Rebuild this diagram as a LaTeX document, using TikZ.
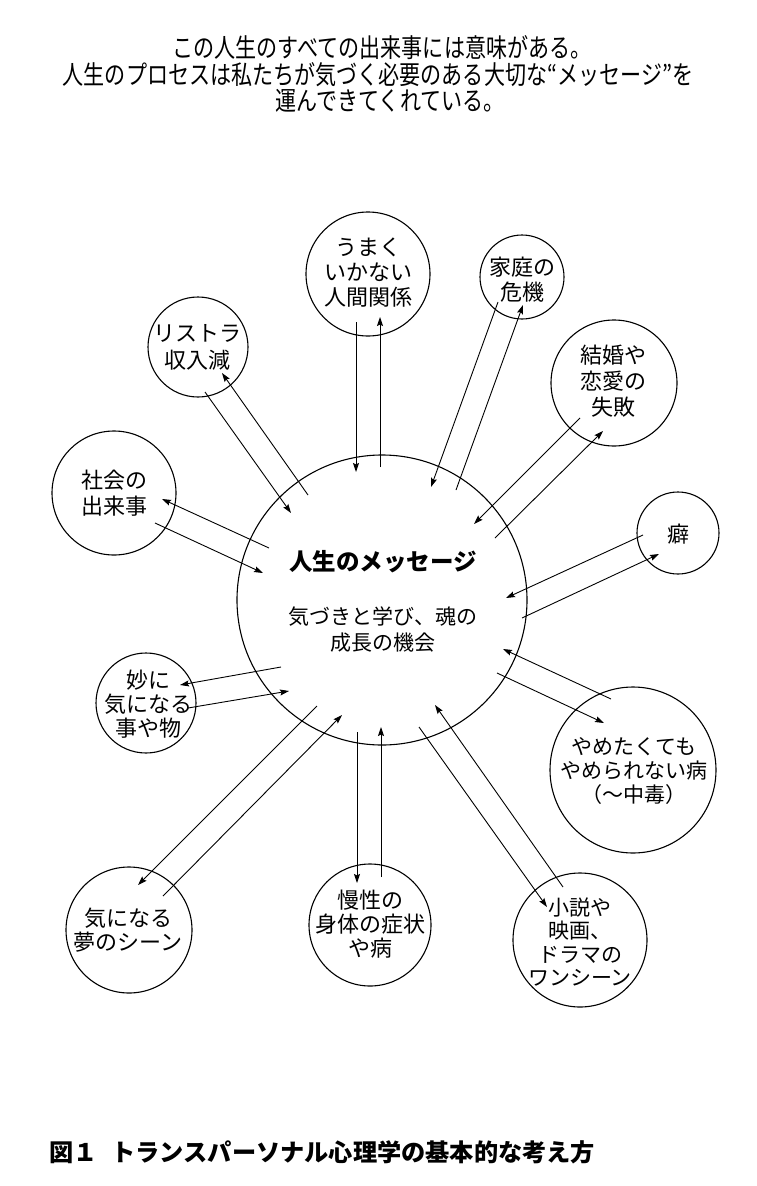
\documentclass[tikz,border=0pt]{standalone}
\usepackage{fontspec}
\setmainfont{Noto Sans CJK JP}
\newfontfamily\hdrfont[FakeStretch=0.81]{Noto Sans CJK JP}
\usetikzlibrary{arrows.meta}
\begin{document}
\begin{tikzpicture}[x=1pt,y=-1pt,
  bubble/.style={circle,draw,line width=1.1pt,inner sep=0pt,minimum size=#1},
  bubtext/.style={align=center,inner sep=0pt,font=\fontsize{22}{25}\selectfont},
  smalltext/.style={align=center,inner sep=0pt,font=\fontsize{21}{23.5}\selectfont},
  conn/.style={line width=0.9pt,-{Stealth[length=9pt,width=6pt,inset=1.5pt]}},
  header/.style={inner sep=0pt,font=\hdrfont\fontsize{26}{27}\selectfont},
  caption/.style={inner sep=0pt,anchor=west,font=\bfseries\fontsize{24.2}{28}\selectfont}]
\useasboundingbox (0,0) rectangle (756,1186);

% header
\node[header] (h1) at (382,48) {この人生のすべての出来事には意味がある。};
\node[header] (h2) at (378,75) {人生のプロセスは私たちが気づく必要のある大切な“メッセージ”を};
\node[header] (h3) at (390,101) {運んできてくれている。};

% hub
\node[bubble=290pt] (hub) at (382,600) {};
\node[inner sep=0pt,font=\bfseries\fontsize{23.5}{28}\selectfont] (hubtitle) at (383,562) {人生のメッセージ};
\node[align=center,inner sep=0pt,font=\fontsize{21}{26}\selectfont] (hubtext) at (383,630) {気づきと学び、魂の\\成長の機会};

% bubbles
\node[bubble=124pt] (c1) at (368,274) {};
\node[bubtext] (t1) at (368,273) {うまく\\いかない\\人間関係};
\node[bubble=84pt] (c2) at (522,277) {};
\node[bubtext] (t2) at (522,280) {家庭の\\危機};
\node[bubble=126pt] (c3) at (614,383) {};
\node[bubtext,font=\fontsize{22}{26}\selectfont] (t3) at (613,381) {結婚や\\恋愛の\\失敗};
\node[bubble=82pt] (c4) at (678,533) {};
\node[bubtext] (t4) at (678,534) {癖};
\node[bubble=166pt] (c5) at (633,770) {};
\node[smalltext,font=\fontsize{21}{24}\selectfont] (t5) at (634,771) {やめたくても\\やめられない病\\（〜中毒）};
\node[bubble=134pt] (c6) at (580,940) {};
\node[smalltext] (t6) at (580,942) {小説や\\映画、\\ドラマの\\ワンシーン};
\node[bubble=122pt] (c7) at (370,925) {};
\node[bubtext,font=\fontsize{22}{24}\selectfont] (t7) at (370,924) {慢性の\\身体の症状\\や病};
\node[bubble=126pt] (c8) at (129,930) {};
\node[bubtext,font=\fontsize{22}{24}\selectfont] (t8) at (128,930) {気になる\\夢のシーン};
\node[bubble=100pt] (c9) at (146,703) {};
\node[bubtext,font=\fontsize{22}{24}\selectfont] (t9) at (148,704) {妙に\\気になる\\事や物};
\node[bubble=124pt] (c10) at (114,493) {};
\node[bubtext,font=\fontsize{22}{26}\selectfont] (t10) at (114,493) {社会の\\出来事};
\node[bubble=100pt] (c11) at (198,347) {};
\node[bubtext,font=\fontsize{22}{27}\selectfont] (t11) at (197,347) {リストラ\\収入減};

% connector end points
\coordinate (a1s) at (356,322); \coordinate (a1e) at (356,472);
\coordinate (a2s) at (380,467); \coordinate (a2e) at (380,317);
\coordinate (b1s) at (498,302); \coordinate (b1e) at (431,487);
\coordinate (b2s) at (456,490); \coordinate (b2e) at (523,305);
\coordinate (c1s) at (580,418); \coordinate (c1e) at (474,524);
\coordinate (c2s) at (495,538); \coordinate (c2e) at (603,431);
\coordinate (d1s) at (643,535); \coordinate (d1e) at (506,598);
\coordinate (d2s) at (522,618); \coordinate (d2e) at (659,554);
\coordinate (e1s) at (611,699); \coordinate (e1e) at (503,649);
\coordinate (e2s) at (497,673); \coordinate (e2e) at (604,723);
\coordinate (f1s) at (419,727); \coordinate (f1e) at (547,907);
\coordinate (f2s) at (563,887); \coordinate (f2e) at (435,705);
\coordinate (g1s) at (357,732); \coordinate (g1e) at (357,883);
\coordinate (g2s) at (381,877); \coordinate (g2e) at (381,727);
\coordinate (h1s) at (317,706); \coordinate (h1e) at (138,885);
\coordinate (h2s) at (163,896); \coordinate (h2e) at (342,715);
\coordinate (i1s) at (281,667); \coordinate (i1e) at (180,685);
\coordinate (i2s) at (188,708); \coordinate (i2e) at (289,691);
\coordinate (j1s) at (269,548); \coordinate (j1e) at (162,499);
\coordinate (j2s) at (155,523); \coordinate (j2e) at (263,573);
\coordinate (k1s) at (205,392); \coordinate (k1e) at (291,513);
\coordinate (k2s) at (308,495); \coordinate (k2e) at (222,373);

\foreach \p in {a,b,c,d,e,f,g,h,i,j,k}{
  \draw[conn] (\p1s) -- (\p1e);
  \draw[conn] (\p2s) -- (\p2e);
}

% caption
\node[caption] (cap) at (49,1152) {図１\hspace{14pt}トランスパーソナル心理学の基本的な考え方};
\end{tikzpicture}
\end{document}
